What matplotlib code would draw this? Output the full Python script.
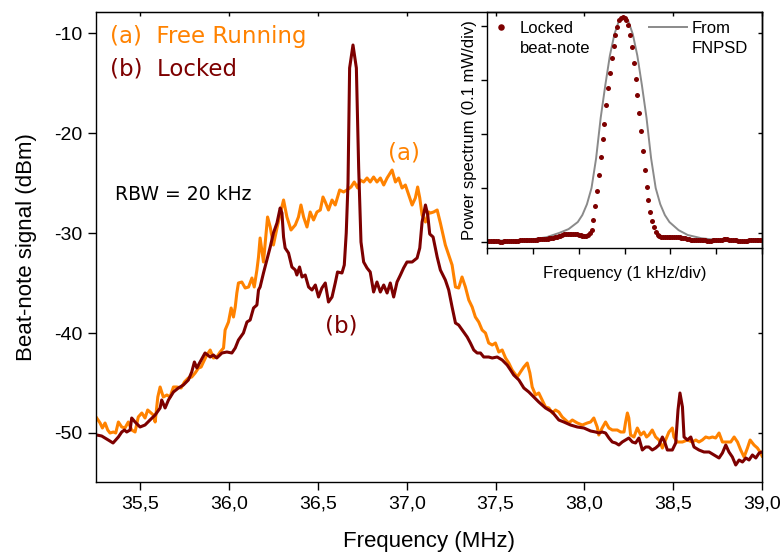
import numpy as np
import matplotlib
matplotlib.use('Agg')
import matplotlib.pyplot as plt

plt.rcParams['font.family'] = ['Liberation Sans', 'DejaVu Sans']
plt.rcParams['axes.unicode_minus'] = False

orange = '#ff8200'
dark = '#7d0000'

# free running beat-note (a), MHz / dBm
free_f = [35.254, 35.273, 35.286, 35.301, 35.316, 35.329, 35.348, 35.361, 35.376, 35.395,
          35.413, 35.432, 35.451, 35.470, 35.488, 35.508, 35.526, 35.541, 35.554, 35.573,
          35.583, 35.598, 35.611, 35.629, 35.649, 35.667, 35.686, 35.705, 35.729, 35.748,
          35.770, 35.789, 35.808, 35.827, 35.842, 35.855, 35.874, 35.893, 35.911, 35.930,
          35.949, 35.968, 35.977, 35.996, 36.011, 36.024, 36.034, 36.043, 36.052, 36.071,
          36.090, 36.109, 36.128, 36.141, 36.156, 36.165, 36.174, 36.193, 36.216, 36.231,
          36.249, 36.269, 36.283, 36.306, 36.325, 36.348, 36.372, 36.390, 36.404, 36.419,
          36.438, 36.456, 36.475, 36.494, 36.513, 36.528, 36.541, 36.559, 36.579, 36.597,
          36.622, 36.644, 36.663, 36.686, 36.704, 36.723, 36.738, 36.757, 36.776, 36.794,
          36.813, 36.832, 36.851, 36.870, 36.889, 36.917, 36.936, 36.954, 36.973, 36.992,
          37.011, 37.030, 37.048, 37.061, 37.073, 37.086, 37.105, 37.123, 37.133, 37.151,
          37.171, 37.189, 37.208, 37.217, 37.236, 37.255, 37.274, 37.292, 37.311, 37.330,
          37.349, 37.368, 37.386, 37.405, 37.424, 37.443, 37.461, 37.481, 37.499, 37.518,
          37.537, 37.556, 37.574, 37.593, 37.622, 37.640, 37.659, 37.678, 37.693, 37.706,
          37.725, 37.743, 37.762, 37.781, 37.800, 37.819, 37.837, 37.856, 37.875, 37.894,
          37.912, 37.932, 37.960, 37.988, 38.016, 38.035, 38.053, 38.072, 38.081, 38.100,
          38.119, 38.138, 38.157, 38.185, 38.204, 38.223, 38.232, 38.242, 38.250, 38.260,
          38.279, 38.298, 38.317, 38.335, 38.350, 38.363, 38.382, 38.401, 38.420, 38.439,
          38.457, 38.476, 38.495, 38.504, 38.523, 38.552, 38.580, 38.608, 38.627, 38.645,
          38.664, 38.683, 38.702, 38.721, 38.739, 38.758, 38.777, 38.796, 38.824, 38.843,
          38.862, 38.880, 38.899, 38.918, 38.933, 38.955, 38.974, 38.993, 39.000]
free_db = [-48.5, -49.0, -49.5, -49.0, -49.7, -50.0, -49.9, -50.0, -48.9, -49.4,
           -49.5, -48.9, -49.7, -49.9, -48.4, -48.0, -48.5, -47.7, -47.9, -48.2,
           -48.9, -46.4, -45.4, -46.4, -46.2, -46.4, -45.4, -45.4, -45.5, -44.9,
           -44.5, -44.4, -44.0, -43.5, -43.4, -42.9, -42.2, -41.7, -42.5, -42.4,
           -41.9, -41.5, -39.7, -38.9, -37.5, -38.4, -37.4, -36.0, -35.0, -34.9,
           -35.5, -35.4, -34.5, -35.4, -33.7, -32.4, -30.5, -32.9, -28.4, -29.4,
           -31.2, -29.5, -28.4, -26.7, -28.4, -29.7, -29.2, -28.4, -27.2, -28.4,
           -29.4, -27.9, -28.7, -27.9, -27.7, -26.4, -26.9, -27.7, -26.7, -27.2,
           -25.7, -25.9, -25.7, -25.4, -24.9, -25.5, -24.7, -24.9, -24.5, -24.9,
           -24.4, -24.9, -24.5, -25.2, -24.5, -23.7, -24.9, -24.5, -25.5, -25.2,
           -26.2, -27.2, -26.5, -25.4, -26.5, -28.2, -28.9, -27.9, -28.0, -27.9,
           -27.7, -29.0, -30.5, -31.2, -32.2, -33.2, -35.4, -35.5, -34.4, -35.4,
           -36.7, -37.4, -38.4, -38.9, -39.7, -40.0, -41.0, -41.2, -41.0, -41.9,
           -41.7, -42.5, -43.0, -43.7, -44.4, -43.9, -43.4, -43.0, -44.0, -45.4,
           -46.2, -46.0, -46.7, -47.4, -47.5, -48.0, -47.7, -47.9, -48.4, -48.7,
           -49.0, -48.7, -49.0, -49.2, -49.0, -48.9, -48.5, -49.4, -50.2, -49.5,
           -48.9, -49.5, -49.7, -49.7, -49.9, -49.9, -48.9, -48.0, -48.5, -50.2,
           -50.4, -49.5, -50.2, -49.9, -50.4, -50.2, -49.7, -50.4, -50.7, -51.5,
           -50.7, -49.9, -49.5, -50.4, -50.9, -50.9, -50.7, -50.9, -50.7, -50.9,
           -50.7, -50.4, -50.5, -50.4, -50.5, -50.0, -50.9, -50.9, -50.9, -50.4,
           -50.9, -51.7, -52.4, -51.5, -50.7, -51.2, -51.5, -52.0, -52.3]

# locked beat-note (b)
lock_f = [35.254, 35.282, 35.301, 35.319, 35.346, 35.361, 35.376, 35.395, 35.410, 35.423,
          35.442, 35.451, 35.470, 35.498, 35.526, 35.554, 35.583, 35.611, 35.620, 35.639,
          35.658, 35.686, 35.714, 35.742, 35.770, 35.789, 35.804, 35.818, 35.836, 35.864,
          35.893, 35.911, 35.930, 35.959, 35.987, 36.015, 36.034, 36.052, 36.080, 36.100,
          36.118, 36.137, 36.156, 36.165, 36.174, 36.193, 36.212, 36.231, 36.249, 36.269,
          36.287, 36.297, 36.306, 36.315, 36.334, 36.353, 36.372, 36.381, 36.396, 36.410,
          36.428, 36.447, 36.466, 36.485, 36.503, 36.522, 36.541, 36.559, 36.579, 36.597,
          36.610, 36.635, 36.648, 36.659, 36.669, 36.678, 36.697, 36.716, 36.729, 36.742,
          36.757, 36.776, 36.794, 36.813, 36.832, 36.851, 36.870, 36.889, 36.907, 36.926,
          36.945, 36.964, 36.982, 37.001, 37.030, 37.058, 37.073, 37.086, 37.105, 37.118,
          37.129, 37.148, 37.171, 37.189, 37.217, 37.236, 37.255, 37.274, 37.292, 37.320,
          37.340, 37.358, 37.377, 37.396, 37.415, 37.433, 37.461, 37.481, 37.509, 37.537,
          37.565, 37.584, 37.602, 37.631, 37.659, 37.687, 37.715, 37.743, 37.781, 37.819,
          37.856, 37.884, 37.922, 37.960, 37.997, 38.035, 38.063, 38.081, 38.100, 38.119,
          38.138, 38.157, 38.176, 38.194, 38.213, 38.232, 38.250, 38.270, 38.288, 38.307,
          38.326, 38.345, 38.363, 38.382, 38.401, 38.420, 38.439, 38.452, 38.467, 38.495,
          38.514, 38.527, 38.538, 38.552, 38.561, 38.580, 38.599, 38.617, 38.645, 38.673,
          38.702, 38.730, 38.758, 38.777, 38.796, 38.814, 38.833, 38.852, 38.871, 38.890,
          38.909, 38.927, 38.946, 38.965, 38.984, 39.000]
lock_db = [-50.2, -50.3, -50.5, -50.7, -51.0, -50.7, -50.4, -49.9, -49.7, -49.9,
           -49.7, -48.5, -48.9, -49.4, -49.2, -48.7, -48.2, -47.5, -46.7, -47.5,
           -46.7, -45.9, -45.5, -45.2, -44.7, -43.9, -42.9, -43.5, -42.9, -42.0,
           -42.4, -42.2, -42.5, -42.0, -41.9, -42.0, -41.5, -40.7, -40.0, -38.9,
           -38.7, -37.5, -37.2, -35.7, -35.4, -34.0, -32.7, -31.4, -30.0, -29.0,
           -27.5, -28.0, -30.4, -31.5, -32.0, -33.4, -33.7, -34.2, -33.4, -34.4,
           -34.2, -35.4, -35.7, -35.2, -36.4, -35.5, -35.0, -36.9, -36.4, -35.0,
           -33.9, -34.0, -33.2, -30.0, -25.0, -13.5, -11.2, -13.5, -23.5, -30.9,
           -32.9, -33.5, -33.9, -35.9, -34.9, -35.9, -35.2, -36.0, -35.0, -36.4,
           -34.9, -34.2, -33.5, -32.9, -32.9, -32.5, -31.5, -28.9, -27.2, -28.2,
           -30.1, -30.4, -32.4, -33.7, -34.7, -35.7, -37.4, -39.0, -39.2, -39.9,
           -40.4, -41.0, -41.7, -42.0, -42.0, -42.4, -42.4, -42.5, -42.4, -42.7,
           -43.2, -43.7, -44.2, -44.7, -45.5, -45.9, -46.4, -46.9, -47.5, -47.9,
           -48.7, -48.9, -49.2, -49.4, -49.5, -49.8, -49.9, -50.0, -49.9, -50.0,
           -50.5, -50.9, -51.0, -51.2, -50.9, -50.7, -50.5, -50.9, -51.0, -50.5,
           -51.7, -51.4, -51.4, -51.7, -51.5, -51.2, -50.4, -50.9, -51.7, -51.7,
           -51.0, -47.7, -46.0, -47.4, -50.4, -50.7, -50.4, -51.4, -51.7, -51.9,
           -51.9, -52.2, -52.5, -52.0, -51.2, -51.9, -52.4, -53.2, -52.7, -52.9,
           -52.5, -52.7, -52.2, -52.5, -52.0, -51.9]

# inset: locked beat-note power spectrum, one value every 0.04 div
inset_locked = [0.02, 0.02, 0.02, 0.01, 0.01, 0.01, 0.01, 0.00, 0.00, 0.01,
                0.01, 0.01, 0.02, 0.02, 0.02, 0.02, 0.02, 0.02, 0.03, 0.03,
                0.03, 0.03, 0.03, 0.04, 0.04, 0.04, 0.04, 0.04, 0.05, 0.05,
                0.05, 0.05, 0.06, 0.06, 0.07, 0.08, 0.08, 0.09, 0.10, 0.11,
                0.12, 0.13, 0.14, 0.14, 0.15, 0.15, 0.15, 0.15, 0.15, 0.14,
                0.13, 0.13, 0.12, 0.12, 0.12, 0.13, 0.17, 0.23, 0.41, 0.66,
                0.95, 1.25, 1.57, 1.90, 2.18, 2.54, 2.86, 3.13, 3.40, 3.63,
                3.83, 3.99, 4.11, 4.15, 4.17, 4.15, 4.12, 4.01, 3.84, 3.62,
                3.32, 3.02, 2.72, 2.39, 2.06, 1.68, 1.34, 1.02, 0.78, 0.56,
                0.39, 0.27, 0.18, 0.13, 0.11, 0.10, 0.09, 0.09, 0.09, 0.09,
                0.09, 0.10, 0.10, 0.10, 0.10, 0.09, 0.08, 0.07, 0.07, 0.06,
                0.05, 0.04, 0.04, 0.04, 0.03, 0.03, 0.03, 0.03, 0.03, 0.03,
                0.02, 0.02, 0.02, 0.03, 0.03, 0.03, 0.03, 0.04, 0.04, 0.05,
                0.05, 0.05, 0.04, 0.04, 0.03, 0.03, 0.03, 0.02, 0.02, 0.02,
                0.02, 0.02, 0.02, 0.03, 0.03, 0.03, 0.03, 0.03, 0.03, 0.03,
                0.03]
inset_f = np.linspace(0, 6, len(inset_locked))

# inset: spectrum computed from the frequency noise PSD
fnpsd_f = [0, 0.5, 1.0, 1.3, 1.58, 1.78, 1.98, 2.08, 2.18, 2.28, 2.38, 2.48, 2.58, 2.68,
           2.78, 2.88, 2.98, 3.08, 3.18, 3.28, 3.38, 3.48, 3.58, 3.68, 3.78, 3.88, 3.98,
           4.18, 4.38, 4.68, 5.0, 5.5, 6.0]
fnpsd_p = [0.02, 0.03, 0.05, 0.09, 0.17, 0.24, 0.37, 0.5, 0.7, 1.0, 1.55, 2.3, 2.9, 3.45,
           3.85, 4.1, 4.17, 4.1, 3.85, 3.45, 2.9, 2.3, 1.55, 1.0, 0.7, 0.5, 0.37,
           0.22, 0.13, 0.07, 0.04, 0.02, 0.02]

xt = [35.5, 36.0, 36.5, 37.0, 37.5, 38.0, 38.5, 39.0]
yt = [-50, -40, -30, -20, -10]

fig = plt.figure(figsize=(7.83, 5.56), dpi=100)
ax = fig.add_axes([0.1226, 0.1331, 0.8506, 0.8453])
ax.plot(free_f, free_db, color=orange, lw=2.2)
ax.plot(lock_f, lock_db, color=dark, lw=2.2)
ax.set_xlim(35.25, 39.0)
ax.set_ylim(-54.9, -7.9)
ax.set_xticks(xt, [f'{v:.1f}'.replace('.', ',') for v in xt])
ax.set_yticks(yt, [str(v) for v in yt])
ax.tick_params(direction='out', length=6, width=1, labelsize=14, pad=4)
ax.set_xlabel('Frequency (MHz)', fontsize=16, labelpad=13)
ax.set_ylabel('Beat-note signal (dBm)', fontsize=16, labelpad=12)
for s in ax.spines.values():
    s.set_linewidth(1)

top = ax.secondary_xaxis('top')
top.set_xticks(xt)
top.set_xticklabels([])
top.tick_params(direction='in', length=3, width=1)
right = ax.secondary_yaxis('right')
right.set_yticks(yt)
right.set_yticklabels([])
right.tick_params(direction='in', length=3, width=1)

ax.text(35.329, -11.0, '(a)  Free Running', color=orange, fontsize=16.5, family='DejaVu Sans')
ax.text(35.329, -14.2, '(b)  Locked', color=dark, fontsize=16.5, family='DejaVu Sans')
ax.text(35.357, -26.7, 'RBW = 20 kHz', color='black', fontsize=13.5, family='DejaVu Sans')
ax.text(36.986, -22.6, '(a)', color=orange, fontsize=16.5, family='DejaVu Sans', ha='center')
ax.text(36.631, -39.9, '(b)', color=dark, fontsize=16.5, family='DejaVu Sans', ha='center')

# inset (transparent so the main right-axis ticks stay visible)
axi = fig.add_axes([0.6220, 0.5540, 0.3512, 0.4245])
axi.set_facecolor('none')
ln, = axi.plot(fnpsd_f, fnpsd_p, color='#8a8a8a', lw=1.4)
dots, = axi.plot(inset_f, inset_locked, 'o', ms=3.6, color=dark, mec='none')
axi.set_xlim(0, 6)
axi.set_ylim(-0.11, 4.26)
axi.set_xticks(range(7))
axi.set_yticks(range(5))
axi.tick_params(labelbottom=False, labelleft=False, direction='out', length=4, width=1)
axi.set_xlabel('Frequency (1 kHz/div)', fontsize=12, labelpad=9)
axi.set_ylabel('Power spectrum (0.1 mW/div)', fontsize=12, labelpad=3)
for s in axi.spines.values():
    s.set_linewidth(1)

# legend keys with first line of each label, second line as plain text below
leg1 = axi.legend([dots], ['Locked'], loc='upper left', bbox_to_anchor=(0.025, 0.963),
                  frameon=False, fontsize=12, handlelength=0.8, handletextpad=0.75,
                  borderpad=0, borderaxespad=0, markerscale=1.3)
axi.add_artist(leg1)
axi.legend([ln], ['From'], loc='upper left', bbox_to_anchor=(0.589, 0.963),
           frameon=False, fontsize=12, handlelength=2.3, handletextpad=0.25,
           borderpad=0, borderaxespad=0)
axi.text(0.12, 0.826, 'beat-note', transform=axi.transAxes, fontsize=12, va='baseline')
axi.text(0.744, 0.826, 'FNPSD', transform=axi.transAxes, fontsize=12, va='baseline')

fig.savefig('out.png', dpi=100)
